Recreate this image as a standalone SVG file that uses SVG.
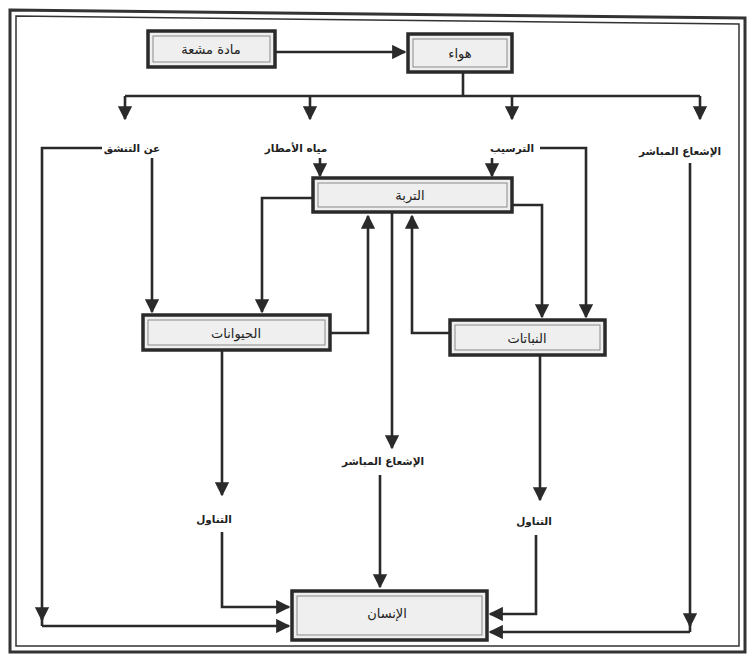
<svg xmlns="http://www.w3.org/2000/svg" width="752" height="662" viewBox="0 0 752 662">
<defs>
<marker id="ah" viewBox="0 0 10 10" refX="9" refY="5" markerWidth="5.5" markerHeight="5.5" orient="auto" markerUnits="strokeWidth">
<path d="M0,0 L10,5 L0,10 z" fill="#2a2a2a"/>
</marker>
</defs>
<style>
.frame{fill:none;stroke:#333;}
.box{fill:#efefef;stroke:#2a2a2a;stroke-width:3.5;}
.inner{fill:none;stroke:#8a8a8a;stroke-width:1;}
.t{font-family:"DejaVu Sans",sans-serif;fill:#222;text-anchor:middle;}
.bt{font-size:13px;}
.lt{font-size:10.5px;font-weight:bold;}
.c{fill:none;stroke:#2a2a2a;stroke-width:2.6;}
.a{marker-end:url(#ah);}
</style>
<rect width="752" height="662" fill="#fff"/>
<g id="frame">
<path class="frame" d="M10,10 L745,18 L745,652 L10,652 Z" stroke-width="3"/>
<path class="frame" d="M16,16 L739,24 L739,646 L16,646 Z" stroke-width="1.5"/>
</g>
<g id="connectors">
<path class="c a" d="M275,52 L405,52"/>
<path class="c" d="M463,72 L463,96"/>
<path class="c" d="M125,96 L700,96"/>
<path class="c a" d="M125,96 L125,119"/>
<path class="c a" d="M310,96 L310,119"/>
<path class="c a" d="M512,96 L512,119"/>
<path class="c a" d="M700,96 L700,119"/>
<path class="c a" d="M320,158 L320,176"/>
<path class="c a" d="M492,158 L492,176"/>
<path class="c a" d="M152,158 L152,312"/>
<path class="c a" d="M102,148 L42,148 L42,620"/>
<path class="c" d="M42,618 L42,626"/>
<path class="c a" d="M42,626 L289,626"/>
<path class="c a" d="M540,148 L586,148 L586,317"/>
<path class="c a" d="M512,205 L542,205 L542,317"/>
<path class="c a" d="M450,333 L412,333 L412,216"/>
<path class="c a" d="M313,198 L262,198 L262,312"/>
<path class="c a" d="M330,333 L368,333 L368,216"/>
<path class="c a" d="M392,212 L392,448"/>
<path class="c a" d="M380,475 L380,587"/>
<path class="c a" d="M222,350 L222,495"/>
<path class="c a" d="M222,532 L222,607 L289,607"/>
<path class="c a" d="M540,355 L540,500"/>
<path class="c a" d="M536,535 L536,614 L490,614"/>
<path class="c a" d="M690,163 L690,626"/>
<path class="c" d="M690,624 L690,632"/>
<path class="c a" d="M690,632 L490,632"/>
</g>
<g id="n_radioactive">
<rect class="box" x="148" y="31" width="127" height="36"/>
<rect class="inner" x="153" y="36" width="117" height="26"/>
<text class="t bt" x="211" y="54">مادة مشعة</text>
</g>
<g id="n_air">
<rect class="box" x="408" y="34" width="104" height="38"/>
<rect class="inner" x="413" y="39" width="94" height="28"/>
<text class="t bt" x="460" y="58">هواء</text>
</g>
<g id="l_inhale"><text class="t lt" x="132" y="152">عن التنشق</text></g>
<g id="l_rain"><text class="t lt" x="296" y="152">مياه الأمطار</text></g>
<g id="l_deposit"><text class="t lt" x="512" y="152">الترسيب</text></g>
<g id="l_direct1"><text class="t lt" x="680" y="155">الإشعاع المباشر</text></g>
<g id="n_soil">
<rect class="box" x="313" y="178" width="199" height="34"/>
<rect class="inner" x="318" y="183" width="189" height="24"/>
<text class="t bt" x="410" y="200">التربة</text>
</g>
<g id="n_animals">
<rect class="box" x="143" y="315" width="187" height="35"/>
<rect class="inner" x="148" y="320" width="177" height="25"/>
<text class="t bt" x="236" y="338">الحيوانات</text>
</g>
<g id="n_plants">
<rect class="box" x="450" y="320" width="155" height="35"/>
<rect class="inner" x="455" y="325" width="145" height="25"/>
<text class="t bt" x="527" y="343">النباتات</text>
</g>
<g id="l_direct2"><text class="t lt" x="383" y="465">الإشعاع المباشر</text></g>
<g id="l_ingest1"><text class="t lt" x="214" y="523">التناول</text></g>
<g id="l_ingest2"><text class="t lt" x="534" y="525">التناول</text></g>
<g id="n_human">
<rect class="box" x="292" y="591" width="195" height="49"/>
<rect class="inner" x="297" y="596" width="185" height="39"/>
<text class="t bt" x="387" y="618">الإنسان</text>
</g>
</svg>
